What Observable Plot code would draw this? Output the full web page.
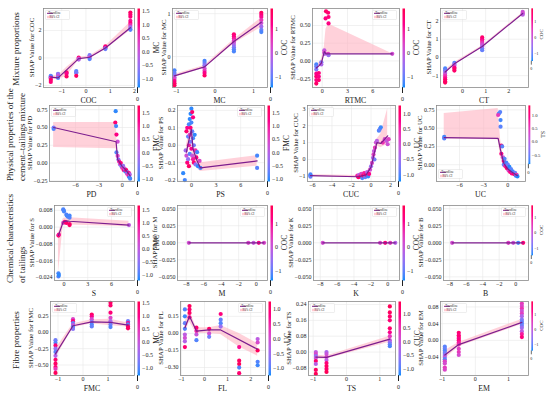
<!DOCTYPE html>
<html><head><meta charset="utf-8">
<script src="https://cdn.jsdelivr.net/npm/d3@7"></script>
<script src="https://cdn.jsdelivr.net/npm/@observablehq/plot@0.6"></script>
<style>
html,body{margin:0;padding:0;background:#fff;overflow:hidden;}
#chart{position:relative;width:550px;height:397px;overflow:hidden;background:#fff;}
.pos{position:absolute;}
.pos svg{overflow:visible;}
</style></head><body><div id="chart"></div>
<script>
// ---------------- DATA ----------------
// points: [feature value, SHAP value, colour-feature value]; trend: [x, y]; ci: [x, low, high]
const cocPts = [[-1.45,-1.3,-1.0],[-1.45,-1.35,-0.8],[-1.45,-1.4,-1.1],[-1.45,-1.45,1.3],[-1.45,-1.5,0.1],[-1.45,-1.6,1.4],[-1.45,-1.75,1.2],
 [-1.15,-1.15,-0.9],[-1.15,-1.2,-0.3],[-1.15,-1.35,0.2],[-1.15,-1.45,-1.0],
 [-0.8,-1.05,1.3],[-0.8,-1.15,1.0],[-0.8,-1.35,1.4],
 [-0.4,-0.95,-1.0],[-0.4,-1.05,-0.9],[-0.4,-1.1,-0.8],[-0.4,-1.3,1.4],
 [-0.3,0.02,1.3],[-0.3,-0.05,0.3],[-0.3,-0.12,-0.2],
 [0.15,0.2,-0.8],[0.15,0.1,-0.5],[0.15,0.0,0.2],[0.15,-0.08,-1.0],
 [0.8,0.85,1.3],[0.8,0.78,1.1],[0.8,0.7,-0.5],[0.8,0.65,-0.9],
 [1.83,3.3,1.4],[1.83,3.15,1.3],[1.83,3.0,1.2],[1.83,2.7,0.9],[1.83,2.55,1.1],[1.83,2.4,0.6],[1.83,2.25,-0.3],[1.83,2.1,-0.8],[1.83,2.05,-1.0]];
const cocTrend = [[-1.45,-1.4],[-1.15,-1.45],[-0.3,-0.05],[0.15,0.05],[0.8,0.72],[1.83,2.2]];
const cocCI = [[-1.45,-1.55,-1.3],[-1.15,-1.55,-1.3],[-0.8,-1.35,-0.7],[-0.3,-0.15,0.05],[0.15,-0.05,0.15],[0.8,0.6,0.85],[1.83,2.0,2.6]];

const mcPts = [[-1.05,-0.32,-1.2],[-1.05,-0.38,-1.0],[-1.05,-0.43,-0.8],[-1.05,-0.48,-0.2],[-1.05,-0.52,0.4],[-1.05,-0.57,1.2],[-1.05,-0.62,1.5],[-1.05,-0.67,1.7],
 [-0.27,-0.1,-1.2],[-0.27,-0.15,-1.0],[-0.27,-0.2,-0.6],[-0.27,-0.28,0.2],[-0.27,-0.33,0.6],[-0.27,-0.38,1.2],[-0.27,-0.44,1.6],
 [0.49,0.52,1.5],[0.49,0.47,1.3],[0.49,0.42,1.0],[0.49,0.37,0.5],[0.49,0.32,0.1],[0.49,0.27,-0.3],[0.49,0.22,-0.7],[0.49,0.17,-1.0],[0.49,0.12,-1.2],
 [1.2,1.02,1.7],[1.2,0.97,1.4],[1.2,0.92,1.1],[1.2,0.85,0.6],[1.2,0.78,0.1],[1.2,0.7,-0.4],[1.2,0.62,-0.9],[1.2,0.57,-1.2]];
const mcTrend = [[-1.05,-0.45],[-0.27,-0.24],[0.49,0.35],[1.2,0.8]];
const mcCI = [[-1.05,-0.48,-0.42],[-0.27,-0.27,-0.21],[0.49,0.3,0.4],[1.2,0.68,0.9]];

const rtmcPts = [[-0.7,-0.05,-1.2],[-0.7,-0.08,-1.0],[-0.7,-0.12,-0.8],[-0.7,-0.18,1.2],[-0.7,-0.22,1.5],[-0.7,-0.27,1.3],[-0.7,-0.32,1.6],
 [-0.4,-0.17,1.4],[-0.4,-0.22,1.2],[-0.4,-0.27,1.5],[-0.1,-0.02,-0.8],[-0.1,-0.05,-0.3],[0.25,0.15,0.0],[0.25,0.12,0.3],[0.3,0.1,-0.2],
 [0.45,0.7,1.6],[0.4,0.6,1.3],[0.7,0.68,1.5],[0.75,0.62,1.4],[0.75,0.53,1.3],[0.7,0.1,0.5],[0.75,0.08,-0.5],[8.3,0.1,0.2]];
const rtmcTrend = [[-0.7,-0.1],[-0.4,-0.07],[-0.1,-0.03],[0.25,0.13],[0.45,0.1],[0.75,0.1],[8.3,0.1]];
const rtmcCI = [[-0.7,-0.15,-0.05],[-0.4,-0.1,-0.03],[-0.1,-0.06,0.02],[0.25,0.08,0.2],[0.45,0.09,0.45],[0.75,0.1,0.52],[8.3,0.1,0.1]];

const ctPts = [[-0.75,-0.6,-1.2],[-0.75,-0.7,-1.0],[-0.75,-0.8,-0.5],[-0.75,-0.9,0.0],[-0.75,-1.0,0.6],[-0.75,-1.1,1.0],[-0.75,-1.2,1.4],[-0.75,-1.3,1.6],[-0.75,-1.38,1.7],
 [-0.35,-0.3,-1.1],[-0.35,-0.38,-0.6],[-0.35,-0.45,0.0],[-0.35,-0.55,1.2],[-0.35,-0.62,1.5],[-0.35,-0.72,1.6],
 [0.85,1.1,1.6],[0.85,1.0,1.3],[0.85,0.9,1.0],[0.85,0.8,0.6],[0.85,0.7,0.2],[0.85,0.6,-0.2],[0.85,0.5,-0.6],[0.85,0.4,-1.0],
 [2.6,2.5,0.1],[2.6,2.42,0.3],[2.6,2.35,-0.1]];
const ctTrend = [[-0.75,-0.8],[-0.35,-0.35],[0.85,0.6],[2.6,2.42]];
const ctCI = [[-0.75,-0.9,-0.7],[-0.35,-0.42,-0.28],[0.85,0.55,0.65],[2.6,2.38,2.46]];

const pdPts = [[-8.8,0.5,-0.5],[-8.8,0.48,-0.8],[-0.85,0.73,-1.0],[-0.9,0.57,1.5],[-0.8,0.52,-0.9],[-0.75,0.4,1.3],[-0.6,0.3,0.3],[-0.75,0.15,-0.8],
 [-0.6,0.1,0.5],[-0.5,0.05,-0.5],[-0.4,0.02,1.0],[-0.3,-0.02,0.0],[-0.2,0.0,1.4],[-0.1,-0.05,-0.7],[0.0,-0.07,0.8],[0.1,-0.04,-0.3],
 [0.2,-0.1,1.2],[0.3,-0.08,0.2],[0.4,-0.12,-0.9],[0.5,-0.1,1.5],[0.6,-0.15,0.5],[0.7,-0.13,-0.5],[0.8,-0.18,1.0],[0.9,-0.2,-1.0],[1.0,-0.22,-0.9],[0.85,-0.14,1.3],[0.95,-0.16,0.0]];
const pdTrend = [[-8.8,0.5],[-0.8,0.3],[-0.6,0.05],[-0.3,0.0],[0,-0.05],[0.3,-0.08],[0.6,-0.12],[1.0,-0.18]];
const pdCI = [[-8.8,0.22,0.57],[-0.8,0.2,0.57],[-0.6,0.0,0.12],[-0.3,-0.04,0.04],[0,-0.09,-0.01],[0.3,-0.12,-0.04],[0.6,-0.16,-0.08],[1.0,-0.22,-0.14]];

const psPts = [[-1.0,-0.16,-1.0],[-0.8,-0.2,-0.9],[-0.7,-0.03,-0.2],[-0.6,0.08,1.5],[-0.6,-0.06,0.3],[-0.5,0.1,1.2],[-0.5,-0.1,1.4],[-0.4,0.05,-0.7],
 [-0.4,-0.08,-0.3],[-0.3,0.12,-0.9],[-0.3,0.0,1.0],[-0.3,-0.12,1.6],[-0.2,0.15,-1.0],[-0.2,0.06,0.5],[-0.2,-0.05,-0.8],[-0.1,0.18,-1.0],
 [-0.1,0.1,1.4],[-0.1,0.02,-0.5],[0.0,0.21,-1.0],[0.0,0.13,-0.9],[0.0,-0.02,1.2],[0.1,0.19,1.5],[0.1,0.08,-0.7],[0.1,-0.06,0.2],
 [0.2,0.16,1.3],[0.2,0.04,-0.9],[0.2,-0.08,1.0],[0.3,0.0,-0.6],[0.3,-0.1,1.5],[0.4,0.06,-1.0],[0.5,-0.03,0.8],[0.5,-0.11,-0.4],
 [0.6,-0.07,1.3],[0.7,-0.04,-0.9],[0.8,-0.12,-1.0],[1.0,-0.09,0.5],[1.1,-0.13,-0.9],[8.0,-0.06,-0.9],[8.0,-0.13,-0.8]];
const psTrend = [[-0.6,-0.04],[-0.3,0.03],[0.0,0.09],[0.2,-0.02],[0.4,-0.05],[0.7,-0.09],[1.1,-0.13],[8.0,-0.09]];
const psCI = [[-0.6,-0.08,0.0],[-0.3,-0.02,0.07],[0.0,0.04,0.13],[0.2,-0.07,0.02],[0.4,-0.09,-0.01],[0.7,-0.13,-0.05],[1.1,-0.15,-0.1],[8.0,-0.12,-0.06]];

const cucPts = [[-6.2,-0.88,-1.0],[-6.2,-0.95,-1.1],[-6.2,-1.02,-0.9],
 [-1.4,-0.95,0.5],[-1.3,-1.05,1.0],[-1.2,-0.9,-0.3],[-1.1,-1.0,1.2],[-1.0,-0.85,0.2],[-0.9,-1.1,-1.0],[-0.8,-0.95,1.1],[-0.7,-0.8,0.6],
 [-0.6,-1.05,-0.9],[-0.5,-0.9,1.0],[-0.4,-0.75,-0.2],[-0.3,-1.0,-1.1],[-0.2,-0.85,0.8],[-0.1,-0.6,0.0],[0.0,-0.4,-0.5],[0.1,-0.2,0.1],
 [0.2,0.1,-0.3],[0.25,0.3,0.2],[0.3,0.5,-0.1],[0.35,0.0,-0.8],[0.4,0.7,0.3],[0.5,1.0,0.0],[0.6,1.1,-0.2],[0.8,1.7,-1.0],[0.9,1.8,-0.9],
 [1.0,1.9,-1.1],[1.2,1.0,0.4],[1.4,1.2,0.1],[1.6,1.1,-0.1],[1.7,0.9,0.0],[1.8,1.2,0.2]];
const cucTrend = [[-6.2,-0.95],[-1.3,-1.02],[-0.5,-0.9],[0,-0.45],[0.3,0.3],[0.6,1.0],[1.0,0.95],[1.7,1.4]];
const cucCI = [[-6.2,-1.0,-0.9],[-1.3,-1.08,-0.95],[-0.5,-0.98,-0.82],[0,-0.6,-0.3],[0.3,0.1,0.5],[0.6,0.8,1.2],[1.0,0.7,1.5],[1.7,0.9,3.0]];

const ucPts = [[-7.9,0.38,-0.7],[-7.9,0.36,-0.6],[-1.1,0.7,-0.7],[-0.95,0.72,-0.6],[-0.9,0.61,-0.7],[-0.9,0.52,-0.6],[-1.2,0.68,0.5],
 [-0.8,0.26,1.2],[-0.7,0.25,-0.6],[-0.8,0.15,1.0],[-0.6,0.1,0.2],[-0.5,0.05,1.1],[-0.5,0.0,-0.5],[-0.4,0.08,-0.6],[-0.3,-0.02,0.8],
 [-0.2,0.03,-0.7],[-0.1,-0.05,1.2],[0.0,0.0,-0.5],[0.1,-0.08,0.4],[0.2,-0.03,-0.8],[0.3,-0.1,1.0],[0.4,-0.06,-0.6],[0.5,-0.12,0.9],
 [0.6,-0.09,-0.7],[0.8,-0.13,1.2],[0.9,-0.11,-0.5],[1.0,-0.15,-0.7],[1.1,-0.14,0.6],[1.2,-0.16,-0.8]];
const ucTrend = [[-7.9,0.37],[-1.2,0.36],[-0.9,0.2],[-0.5,0.02],[0,-0.06],[0.5,-0.1],[1.2,-0.15]];
const ucCI = [[-7.9,0.35,0.7],[-1.2,0.34,0.77],[-0.9,0.1,0.35],[-0.5,-0.02,0.06],[0,-0.09,-0.03],[0.5,-0.13,-0.07],[1.2,-0.19,-0.11]];

const sPts = [[-0.7,-0.004,1.4],[-0.65,-0.0035,1.0],[-0.7,-0.022,-1.0],[-0.7,-0.0235,-0.9],[-0.65,-0.0228,-1.1],[-0.1,0.0085,-1.0],
 [-0.05,0.008,-0.9],[0.0,0.0075,-1.0],[0.3,0.006,-0.9],[0.35,0.0055,-1.0],[0.5,0.005,-1.0],[0.7,0.0045,-0.9],[0.7,0.0055,-1.0],
 [-0.1,0.002,0.3],[0.1,0.0025,1.2],[0.3,0.002,1.4],[0.7,0.0015,1.3],[0.7,0.001,1.5],[8.2,0.001,0.0]];
const sTrend = [[-0.7,-0.004],[-0.1,0.0025],[0.3,0.003],[0.7,0.0028],[8.2,0.001]];
const sCI = [[-0.7,-0.022,-0.003],[-0.1,0.001,0.004],[0.3,0.001,0.0045],[0.7,0.001,0.0045],[8.2,0.0002,0.0028]];

const mPts = [[-7.7,0,0.2],[-0.9,0,0.3],[-0.3,0,0.0],[0.3,0,1.2],[0.9,0,0.3]];
const mTrend = [[-7.7,0],[0.9,0]];
const mCI = [[-7.7,0,0],[0.9,0,0]];
const kPts = [[-7.7,0,0.2],[-0.9,0,0.3],[-0.3,0,1.3],[0.3,0,0.5],[0.9,0,-0.2]];
const kTrend = [[-7.7,0],[0.9,0]];
const kCI = [[-7.7,0,0],[0.9,0,0]];
const bPts = [[-7.7,0,0.2],[-0.9,0,0.4],[-0.3,0,0.1],[0.3,0,-1.2],[0.9,0,1.4]];
const bTrend = [[-7.7,0],[0.9,0]];
const bCI = [[-7.7,0,0],[0.9,0,0]];

const fmcPts = [[-1.1,-0.12,-0.8],[-1.1,-0.16,-1.0],[-1.1,-0.2,1.2],[-1.1,-0.25,-0.5],[-1.1,-0.3,-0.9],[-1.1,-0.36,-0.2],[-1.1,-0.42,1.3],
 [-1.1,-0.48,1.4],[-1.1,-0.53,1.2],[-1.1,-0.56,0.5],[-1.1,-0.62,1.5],
 [-0.4,0.2,0.3],[-0.4,0.17,1.2],[-0.4,0.14,-0.8],[-0.4,0.11,0.0],[-0.4,0.08,-1.0],[-0.4,0.05,-0.6],
 [0.35,0.27,1.4],[0.35,0.24,1.0],[0.35,0.2,0.2],[0.35,0.16,-0.6],[0.35,0.12,-1.0],[0.35,0.09,-0.9],
 [1.1,0.45,1.4],[1.1,0.41,1.3],[1.1,0.3,1.2],[1.1,0.22,0.3],[1.1,0.17,-0.3],[1.1,0.12,-0.8],[1.1,0.08,-1.0],
 [1.8,0.17,-0.8],[1.8,0.14,1.0],[1.8,0.12,-1.0],[1.8,0.09,1.3],[1.8,0.06,1.4]];
const fmcTrend = [[-1.1,-0.33],[-0.4,0.1],[0.35,0.16],[1.1,0.15],[1.8,0.11]];
const fmcCI = [[-1.1,-0.4,-0.26],[-0.4,0.07,0.13],[0.35,0.13,0.19],[1.1,0.1,0.2],[1.8,0.08,0.14]];

const flPts = [[-0.85,0.21,-1.0],[-0.85,0.15,-1.1],[-0.85,0.09,-0.9],[-0.85,0.04,-1.0],[-0.85,-0.01,-0.2],[-0.85,-0.04,0.0],[-0.85,-0.07,-0.3],[-0.85,-0.12,1.0],
 [-0.65,0.24,1.2],[-0.65,0.21,1.0],[-0.65,0.18,1.1],[-0.65,0.14,0.8],
 [-0.35,0.05,1.0],[-0.35,0.02,0.5],[-0.35,-0.01,-0.1],[-0.35,-0.06,-1.0],
 [0.2,0.04,1.1],[0.2,0.0,0.0],[0.2,-0.03,-0.8],
 [0.7,0.17,0.9],[0.7,0.12,-0.9],[0.7,0.09,-1.0],[0.7,0.06,-0.5],
 [1.5,-0.12,0.7],[1.5,-0.24,1.1],[1.5,-0.27,1.2],[1.5,-0.3,-1.0],[1.5,-0.35,1.0],
 [2.3,-0.05,-0.2],[2.3,-0.08,0.1],[2.3,-0.15,1.2],[2.3,-0.25,-1.0],[2.3,-0.28,-1.1]];
const flTrend = [[-0.85,0.05],[-0.65,0.15],[-0.35,0.02],[0.2,0.03],[0.7,0.03],[2.3,-0.14]];
const flCI = [[-0.85,0.0,0.1],[-0.65,0.1,0.2],[-0.35,0.0,0.05],[0.2,0.0,0.05],[0.7,-0.01,0.07],[1.5,-0.12,0.0],[2.3,-0.2,-0.09]];

const tsPts = [[-0.92,0.0,-0.1],[-0.92,-0.01,0.2],[-0.92,-0.02,-0.5],[-0.92,-0.03,0.0],[-0.92,-0.045,1.2],[-0.92,-0.06,-0.2],[-0.92,-0.09,1.3],[-0.92,-0.11,1.4],
 [-0.6,0.0,-0.3],[-0.6,-0.01,0.0],[-0.6,-0.025,0.2],[-0.6,-0.04,-0.1],[-0.6,-0.055,1.1],[-0.6,-0.07,1.3],[-0.6,-0.085,1.2],[-0.6,-0.1,1.4],
 [1.3,0.23,1.4],[1.3,0.2,1.3],[1.3,0.18,1.2],[1.3,0.16,1.1],[1.3,0.12,1.2],[1.3,0.1,0.9],[1.3,0.08,0.4],[1.3,0.06,0.0],[1.3,0.05,-0.4],[1.3,0.04,-0.8],[1.3,0.03,-1.0]];
const tsTrend = [[-0.92,-0.025],[-0.6,-0.027],[1.3,0.065]];
const tsCI = [[-0.92,-0.035,-0.015],[-0.6,-0.035,-0.02],[1.3,0.05,0.08]];

const emPts = [[-0.92,-0.015,-1.0],[-0.92,-0.02,-0.9],[-0.92,-0.025,-1.1],[-0.92,-0.03,-0.8],[-0.92,-0.035,-0.5],[-0.92,-0.04,0.0],[-0.92,-0.045,-1.0],
 [-0.92,-0.05,0.5],[-0.92,-0.055,0.3],[-0.92,-0.065,0.6],[-0.92,-0.07,0.4],
 [-0.5,0.018,1.5],[-0.5,0.012,1.3],[-0.5,0.008,1.6],[-0.5,0.004,1.2],[-0.5,0.0,1.4],[-0.5,-0.005,1.0],[-0.5,-0.01,0.8],[-0.5,-0.02,0.5],[-0.5,-0.028,0.6],[-0.5,-0.035,0.3],
 [1.4,0.088,0.6],[1.4,0.082,0.4],[1.4,0.076,0.7],[1.4,0.07,0.2],[1.4,0.064,0.5],[1.4,0.058,-0.2],[1.4,0.05,-0.6],[1.4,0.045,-0.9],[1.4,0.04,-1.0],
 [1.4,0.035,-0.8],[1.4,0.03,-0.4],[1.4,0.022,0.0],[1.4,0.015,1.0],[1.4,0.008,1.4]];
const emTrend = [[-0.92,-0.035],[-0.5,-0.01],[1.4,0.043]];
const emCI = [[-0.92,-0.045,-0.025],[-0.5,-0.015,-0.005],[1.4,0.038,0.05]];

// group (row) labels
const rowLabels = [["Mixture proportions"], ["Physical properties of the", "cement\u2013tailings mixture"], ["Chemical characteristics", "of tailings"], ["Fibre properties"]];
const legendLabels = ["Trendline", "95% CI"];

// panel specs: feature, colour feature, data, domains, ticks, formats
const specs = [
 {feat:"COC", col:"MC", pts:cocPts, trend:cocTrend, ci:cocCI, xd:[-1.75,2.0], xt:[-1,0,1,2], yd:[-2.15,3.6], yt:[-2,0,2], yf:"d", cd:[-1.33,1.6], ct:[-1,-0.5,0,0.5,1,1.5], cf:".1f"},
 {feat:"MC", col:"COC", pts:mcPts, trend:mcTrend, ci:mcCI, xd:[-1.1,1.36], xt:[-1,0,1], yd:[-0.72,1.12], yt:[0,1], yf:"d", cd:[-1.46,1.87], ct:[-1,0,1], cf:"d"},
 {feat:"RTMC", col:"COC", pts:rtmcPts, trend:rtmcTrend, ci:rtmcCI, xd:[-1.15,9.16], xt:[0,3,6], yd:[-0.375,0.74], yt:[-0.25,0,0.25,0.5], yf:".2f", cd:[-1.46,1.87], ct:[-1,0,1], cf:"d"},
 {feat:"CT", col:"COC", pts:ctPts, trend:ctTrend, ci:ctCI, xd:[-0.95,2.85], xt:[0,1,2], yd:[-1.65,2.69], yt:[-1,0,1,2], yf:"d", cd:[-1.46,1.87], ct:[-1,0,1], cf:"d"},
 {feat:"PD", col:"FMC", pts:pdPts, trend:pdTrend, ci:pdCI, xd:[-9.33,1.56], xt:[-6,-3,0], yd:[-0.26,0.81], yt:[-0.25,0,0.25,0.5,0.75], yf:".2f", cd:[-1.1,1.8], ct:[-1,-0.5,0,0.5,1,1.5], cf:".1f"},
 {feat:"PS", col:"FMC", pts:psPts, trend:psTrend, ci:psCI, xd:[-1.69,8.9], xt:[0,3,6], yd:[-0.208,0.228], yt:[-0.2,-0.1,0,0.1,0.2], yf:".1f", cd:[-1.1,1.8], ct:[-1,-0.5,0,0.5,1,1.5], cf:".1f"},
 {feat:"CUC", col:"UC", pts:cucPts, trend:cucTrend, ci:cucCI, xd:[-6.5,2.5], xt:[-6,-4,-2,0,2], yd:[-1.3,3.19], yt:[-1,0,1,2,3], yf:"d", cd:[-1.23,1.3], ct:[-1,-0.5,0,0.5,1], cf:".1f"},
 {feat:"UC", col:"TS", pts:ucPts, trend:ucTrend, ci:ucCI, xd:[-8.86,2.2], xt:[-6,-3,0], yd:[-0.23,0.81], yt:[0,0.25,0.5,0.75], yf:".2f", cd:[-0.84,1.38], ct:[-0.5,0,0.5,1], cf:".1f"},
 {feat:"S", col:"FMC", pts:sPts, trend:sTrend, ci:sCI, xd:[-1.2,8.9], xt:[0,3,6], yd:[-0.0254,0.0103], yt:[-0.024,-0.016,-0.008,0,0.008], yf:".3f", cd:[-1.2,1.69], ct:[-1,-0.5,0,0.5,1,1.5], cf:".1f"},
 {feat:"M", col:"COC", pts:mPts, trend:mTrend, ci:mCI, xd:[-9.0,1.3], xt:[-8,-6,-4,-2,0], yd:[-0.0553,0.0547], yt:[-0.05,-0.025,0,0.025,0.05], yf:".3f", cd:[-1.42,1.79], ct:[-1,0,1], cf:"d"},
 {feat:"K", col:"COC", pts:kPts, trend:kTrend, ci:kCI, xd:[-8.8,1.4], xt:[-8,-6,-4,-2,0], yd:[-0.0553,0.0547], yt:[-0.05,-0.025,0,0.025,0.05], yf:".3f", cd:[-1.42,1.79], ct:[-1,0,1], cf:"d"},
 {feat:"B", col:"COC", pts:bPts, trend:bTrend, ci:bCI, xd:[-8.75,1.55], xt:[-8,-6,-4,-2,0], yd:[-0.0553,0.0547], yt:[-0.05,-0.025,0,0.025,0.05], yf:".3f", cd:[-1.42,1.79], ct:[-1,0,1], cf:"d"},
 {feat:"FMC", col:"MC", pts:fmcPts, trend:fmcTrend, ci:fmcCI, xd:[-1.3,2.06], xt:[-1,0,1], yd:[-0.66,0.47], yt:[-0.5,-0.25,0,0.25], yf:".2f", cd:[-1.27,1.58], ct:[-1,-0.5,0,0.5,1,1.5], cf:".1f"},
 {feat:"FL", col:"UC", pts:flPts, trend:flTrend, ci:flCI, xd:[-1.04,2.64], xt:[-1,0,1,2], yd:[-0.37,0.28], yt:[-0.3,-0.15,0,0.15], yf:".2f", cd:[-1.24,1.27], ct:[-1,-0.5,0,0.5,1], cf:".1f"},
 {feat:"TS", col:"CUC", pts:tsPts, trend:tsTrend, ci:tsCI, xd:[-1.14,1.47], xt:[-1,0,1], yd:[-0.118,0.255], yt:[-0.08,0,0.08,0.16,0.24], yf:".2f", cd:[-1.22,1.45], ct:[-1,-0.5,0,0.5,1], cf:".1f"},
 {feat:"EM", col:"COC", pts:emPts, trend:emTrend, ci:emCI, xd:[-1.05,1.6], xt:[-1,0,1], yd:[-0.084,0.093], yt:[-0.04,0,0.04,0.08], yf:".2f", cd:[-1.36,1.87], ct:[-1,0,1], cf:"d"}
];

// ---------------- LAYOUT ----------------
const layout = [
 {fl:43, ft:8, fr:134, fb:87, cbx:137, leg:"tl"},
 {fl:172, ft:8, fr:267, fb:87, cbx:270, leg:"tl"},
 {fl:312, ft:8, fr:399, fb:87, cbx:402, leg:"tr"},
 {fl:440, ft:8, fr:528, fb:87, cbx:531, leg:"tl"},
 {fl:49, ft:105, fr:134, fb:181, cbx:137, leg:"tl"},
 {fl:177, ft:105, fr:264, fb:181, cbx:267, leg:"tr"},
 {fl:307, ft:105, fr:395, fb:181, cbx:398, leg:"tl"},
 {fl:436, ft:105, fr:525, fb:181, cbx:528, leg:"bl"},
 {fl:54, ft:205, fr:134, fb:280, cbx:137, leg:"tr"},
 {fl:177, ft:205, fr:267, fb:280, cbx:270, leg:"tr"},
 {fl:313, ft:205, fr:399, fb:280, cbx:402, leg:"tr"},
 {fl:443, ft:205, fr:528, fb:280, cbx:531, leg:"tr"},
 {fl:50, ft:301, fr:134, fb:375, cbx:137, leg:"tl"},
 {fl:180, ft:301, fr:265, fb:375, cbx:268, leg:"tr"},
 {fl:308, ft:301, fr:395, fb:375, cbx:398, leg:"tl"},
 {fl:440, ft:301, fr:528, fb:375, cbx:531, leg:"tl"}
];
const rowLayout = [{x:[16], y:49, anchor:"middle"}, {x:[10,21.5], y:181, anchor:"start"}, {x:[10,21.5], y:283, anchor:"start"}, {x:[16], y:340, anchor:"middle"}];

const FONT = "'Liberation Serif', 'Times New Roman', serif";
const BLUE = "#008bfb", PINK = "#ff0052", TREND = "#7d1d8e", CIFILL = "#ffb3c1", INK = "#222";
const chart = document.getElementById("chart");
const ctx = document.createElement("canvas").getContext("2d");
function textW(s, size) { ctx.font = `${size}px 'Liberation Serif'`; return ctx.measureText(s).width; }
function dims(args) { return (args[3] && args[3].width) ? args[3] : args[1]; }

// free-positioned text (pixel offsets from the plot frame) as a render-function mark
function labelMark(txt, where, size, rot) {
  return (...args) => {
    const [x, y] = where(dims(args));
    return d3.create("svg:text")
      .attr("transform", `translate(${x},${y}) rotate(${rot})`)
      .attr("text-anchor", "middle").attr("dy", "0.35em")
      .attr("font-size", size).attr("font-family", FONT).attr("fill", INK)
      .text(txt).node();
  };
}

function legendMark(pos) {
  return (...args) => {
    const dim = dims(args);
    const w = 24, h = 9;
    const l = dim.marginLeft, r = dim.width - dim.marginRight, t = dim.marginTop, b = dim.height - dim.marginBottom;
    const x = pos[1] === "l" ? l + 2.5 : r - 2.5 - w;
    const y = pos[0] === "t" ? t + 2.5 : b - 2.5 - h;
    const g = d3.create("svg:g").attr("transform", `translate(${x},${y})`);
    g.append("rect").attr("width", w).attr("height", h).attr("rx", 0.8).attr("fill", "#fff").attr("fill-opacity", 0.8).attr("stroke", "#d5d5d5").attr("stroke-width", 0.4);
    g.append("line").attr("x1", 1.5).attr("x2", 7.5).attr("y1", 2.8).attr("y2", 2.8).attr("stroke", TREND).attr("stroke-width", 1);
    g.append("rect").attr("x", 1.5).attr("y", 5.3).attr("width", 6).attr("height", 2.4).attr("fill", CIFILL).attr("fill-opacity", 0.7);
    g.append("text").attr("x", 9).attr("y", 2.8).attr("dy", "0.35em").attr("font-size", 3.2).attr("font-family", FONT).attr("fill", "#333").text(legendLabels[0]);
    g.append("text").attr("x", 9).attr("y", 6.5).attr("dy", "0.35em").attr("font-size", 3.2).attr("font-family", FONT).attr("fill", "#333").text(legendLabels[1]);
    return g.node();
  };
}

function place(node, left, top) {
  const d = document.createElement("div");
  d.className = "pos"; d.style.left = left + "px"; d.style.top = top + "px";
  d.appendChild(node); chart.appendChild(d);
}

specs.forEach((s, i) => {
  const L = layout[i];
  const mL = 34, mR = 2, mT = 2, mB = 18;
  const fw = L.fr - L.fl, fh = L.fb - L.ft;
  const color = {type: "linear", domain: s.cd, range: [BLUE, PINK], interpolate: "hcl"};
  const yf = d3.format(s.yf), cf = d3.format(s.cf);
  const yoff = d3.max(s.yt, v => textW(yf(v), 6)) + 5.5;
  const grid = {stroke: "#e8e8e8", strokeOpacity: 1, strokeWidth: 0.6};
  const p = Plot.plot({
    width: fw + mL + mR, height: fh + mT + mB,
    marginLeft: mL, marginRight: mR, marginTop: mT, marginBottom: mB,
    x: {domain: s.xd}, y: {domain: s.yd}, color,
    style: {fontFamily: FONT, fontSize: "6px", background: "transparent", color: INK},
    marks: [
      Plot.gridX(s.xt, grid),
      Plot.gridY(s.yt, grid),
      Plot.area(s.ci, {x1: d => d[0], y1: d => d[1], y2: d => d[2], fill: CIFILL, fillOpacity: 0.6}),
      Plot.dot(s.pts, {x: d => d[0], y: d => d[1], fill: d => d[2], r: 2.1}),
      Plot.line(s.trend, {x: d => d[0], y: d => d[1], stroke: TREND, strokeWidth: 1.2}),
      Plot.frame({stroke: "#8a8a8a", strokeWidth: 0.8}),
      Plot.axisX(s.xt, {tickSize: 0, tickPadding: 1.5, tickFormat: d3.format("d"), label: null, fontSize: 6}),
      Plot.axisY(s.yt, {tickSize: 0, tickPadding: 2, tickFormat: yf, label: null, fontSize: 6}),
      labelMark(s.feat, d => [d.marginLeft + (d.width - d.marginLeft - d.marginRight) / 2, d.height - d.marginBottom + 13], 7.8, 0),
      labelMark(`SHAP Value for ${s.feat}`, d => [d.marginLeft - yoff, d.marginTop + (d.height - d.marginTop - d.marginBottom) / 2], 6.8, -90),
      legendMark(L.leg)
    ]
  });
  place(p, L.fl - mL, L.ft - mT);

  // colour bar
  const cbW = 2.5, cbR = 26;
  const loff = 2 + d3.max(s.ct, v => textW(cf(v), 6)) + 3.8;
  const cb = Plot.plot({
    width: cbW + cbR, height: fh, marginLeft: 0, marginRight: cbR, marginTop: 0, marginBottom: 0,
    x: {domain: [0, 1]}, y: {domain: s.cd}, color,
    style: {fontFamily: FONT, fontSize: "6px", background: "transparent", color: INK},
    marks: [
      Plot.raster({x1: 0, x2: 1, y1: s.cd[0], y2: s.cd[1], fill: (x, y) => y, width: 1, height: 80, imageRendering: "auto"}),
      Plot.axisY(s.ct, {anchor: "right", tickSize: 0, tickPadding: 2, tickFormat: cf, label: null, fontSize: 6}),
      labelMark(s.col, d => [d.width - d.marginRight + loff, d.height / 2], 7.5, -90)
    ]
  });
  place(cb, L.cbx, L.ft);
});

// row labels
const NS = "http://www.w3.org/2000/svg";
const svg = document.createElementNS(NS, "svg");
svg.setAttribute("width", 45); svg.setAttribute("height", 397);
svg.style.position = "absolute"; svg.style.left = "0px"; svg.style.top = "0px";
rowLabels.forEach((lines, i) => {
  const R = rowLayout[i];
  lines.forEach((txt, j) => {
    const t = document.createElementNS(NS, "text");
    t.setAttribute("transform", `translate(${R.x[j]},${R.y}) rotate(-90)`);
    t.setAttribute("text-anchor", R.anchor);
    t.setAttribute("dy", "0.35em");
    t.setAttribute("font-family", FONT);
    t.setAttribute("font-size", 9.1);
    t.setAttribute("fill", INK);
    t.textContent = txt;
    svg.appendChild(t);
  });
});
chart.appendChild(svg);
</script></body></html>
